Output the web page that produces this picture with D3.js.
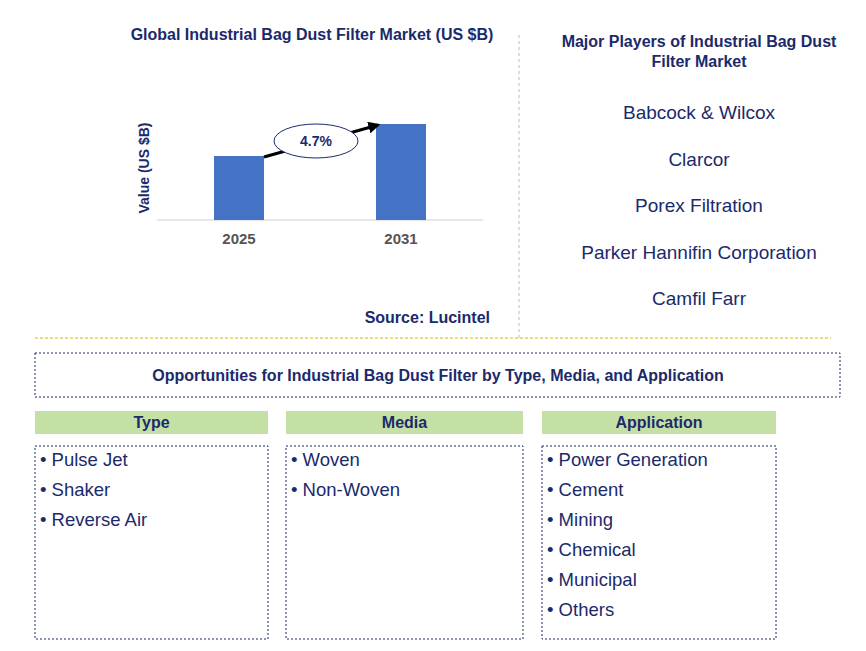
<!DOCTYPE html><html><head><meta charset="utf-8"><script src="https://cdn.jsdelivr.net/npm/d3@7"></script>
<style>body{margin:0;background:#fff}text{font-family:Arial,"Liberation Sans",sans-serif}</style></head><body><svg id="c" width="866" height="651"></svg>
<script>
const years=["2025","2031"];
const values=[2.0,3.0];
const cagr="4.7%";
const players=["Babcock & Wilcox","Clarcor","Porex Filtration","Parker Hannifin Corporation","Camfil Farr"];
const segTitles=["Type","Media","Application"];
const segItems=[["Pulse Jet","Shaker","Reverse Air"],["Woven","Non-Woven"],["Power Generation","Cement","Mining","Chemical","Municipal","Others"]];
const navy="#1b2a6b";
const svg=d3.select("#c");
svg.append("text").attr("x",312).attr("y",40).attr("text-anchor","middle").attr("font-weight","bold").attr("font-size",16).attr("fill",navy).text("Global Industrial Bag Dust Filter Market (US $B)");
const x=d3.scalePoint().domain(years).range([239,401]);
const y=d3.scaleLinear().domain([0,3]).range([220,124]);
svg.append("line").attr("x1",157).attr("x2",483).attr("y1",220).attr("y2",220).attr("stroke","#d0d0d0");
svg.selectAll(".bar").data(values).enter().append("rect").attr("x",(d,i)=>x(years[i])-25).attr("width",50).attr("y",d=>y(d)).attr("height",d=>220-y(d)).attr("fill","#4472c4");
svg.selectAll(".yl").data(years).enter().append("text").attr("x",d=>x(d)).attr("y",244).attr("text-anchor","middle").attr("font-weight","bold").attr("font-size",15).attr("fill","#555").text(d=>d);
svg.append("text").attr("transform","translate(149,168) rotate(-90)").attr("text-anchor","middle").attr("font-weight","bold").attr("font-size",14).attr("fill",navy).text("Value (US $B)");
svg.append("defs").append("marker").attr("id","ah").attr("viewBox","0 0 10 10").attr("refX",8).attr("refY",5).attr("markerWidth",4).attr("markerHeight",4).attr("orient","auto").append("path").attr("d","M0,0L10,5L0,10z").attr("fill","#000");
svg.append("line").attr("x1",264).attr("y1",157).attr("x2",378).attr("y2",125).attr("stroke","#000").attr("stroke-width",3).attr("marker-end","url(#ah)");
svg.append("ellipse").attr("cx",316).attr("cy",141).attr("rx",42).attr("ry",17).attr("fill","#fff").attr("stroke",navy);
svg.append("text").attr("x",316).attr("y",146).attr("text-anchor","middle").attr("font-weight","bold").attr("font-size",14).attr("fill",navy).text(cagr);
svg.append("text").attr("x",490).attr("y",323).attr("text-anchor","end").attr("font-weight","bold").attr("font-size",16).attr("fill",navy).text("Source: Lucintel");
svg.append("line").attr("x1",519).attr("x2",519).attr("y1",35).attr("y2",340).attr("stroke","#bbb").attr("stroke-dasharray","3,3");
svg.append("line").attr("x1",35).attr("x2",831).attr("y1",338).attr("y2",338).attr("stroke","#d4b800").attr("stroke-dasharray","3,2");
svg.append("text").attr("x",699).attr("y",47).attr("text-anchor","middle").attr("font-weight","bold").attr("font-size",16).attr("fill",navy).text("Major Players of Industrial Bag Dust");
svg.append("text").attr("x",699).attr("y",67).attr("text-anchor","middle").attr("font-weight","bold").attr("font-size",16).attr("fill",navy).text("Filter Market");
svg.selectAll(".pl").data(players).enter().append("text").attr("x",699).attr("y",(d,i)=>119+i*46.5).attr("text-anchor","middle").attr("font-size",19).attr("fill",navy).text(d=>d);
svg.append("rect").attr("x",35).attr("y",353).attr("width",805).attr("height",44).attr("fill","none").attr("stroke",navy).attr("stroke-dasharray","2,2");
svg.append("text").attr("x",438).attr("y",381).attr("text-anchor","middle").attr("font-weight","bold").attr("font-size",16).attr("fill",navy).text("Opportunities for Industrial Bag Dust Filter by Type, Media, and Application");
const cx=[35,286,542], cw=[233,237,234];
segTitles.forEach((t,i)=>{
 svg.append("rect").attr("x",cx[i]).attr("y",411).attr("width",cw[i]).attr("height",23).attr("fill","#c5e0a5");
 svg.append("text").attr("x",cx[i]+cw[i]/2).attr("y",428).attr("text-anchor","middle").attr("font-weight","bold").attr("font-size",16).attr("fill",navy).text(t);
 svg.append("rect").attr("x",cx[i]).attr("y",446).attr("width",cw[i]).attr("height",193).attr("fill","none").attr("stroke",navy).attr("stroke-dasharray","2,2");
 svg.selectAll(null).data(segItems[i]).enter().append("text").attr("x",cx[i]+5).attr("y",(d,j)=>466+j*30).attr("font-size",18.5).attr("fill",navy).text(d=>"• "+d);
});
</script></body></html>
